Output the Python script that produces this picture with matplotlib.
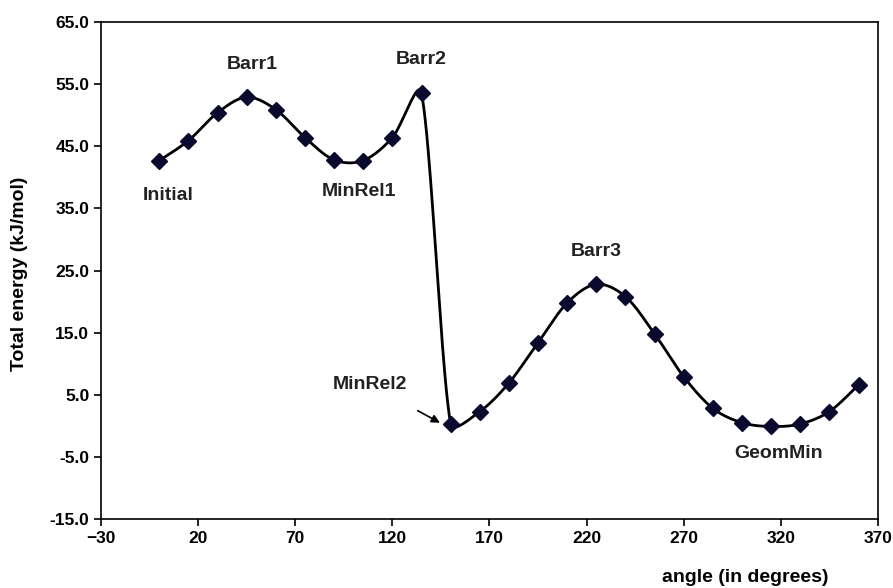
import numpy as np
import matplotlib
matplotlib.use("Agg")
import matplotlib.pyplot as plt

plt.rcParams['font.family'] = ['Liberation Sans', 'DejaVu Sans']
plt.rcParams['font.weight'] = 'bold'

# torsion scan, every 15 degrees
angle = [0, 15, 30, 45, 60, 75, 90, 105, 120, 135, 150, 165, 180,
         195, 210, 225, 240, 255, 270, 285, 300, 315, 330, 345, 360]
energy = [42.7, 45.9, 50.4, 52.9, 50.9, 46.4, 42.8, 42.7, 46.4, 53.5,
          0.3, 2.3, 6.9, 13.4, 19.8, 22.8, 20.8, 14.8, 7.9, 2.8,
          0.5, -0.1, 0.3, 2.3, 6.6]

labels = ["Initial", "Barr1", "MinRel1", "Barr2", "Barr3", "GeomMin"]
label_x = [4.5, 48, 103, 135, 225, 319]
label_y = [37.1, 58.1, 37.7, 58.9, 28.0, -4.4]

XMIN, XMAX, YMIN, YMAX = -30, 370, -15, 65


def smooth(x, y, sx=1.9425, sy=6.2125, n=40):
    # bezier "smoothed line"; tangents worked out in screen units and
    # capped to a third of the segment so steep drops don't overshoot
    p = np.column_stack([np.asarray(x) * sx, np.asarray(y) * sy]).astype(float)
    pts = [p[0]]
    for i in range(len(p) - 1):
        p0 = p[i - 1] if i > 0 else p[i]
        p3 = p[i + 2] if i + 2 < len(p) else p[i + 1]
        seg = np.linalg.norm(p[i + 1] - p[i])
        d1 = (p[i + 1] - p0) / 6.0
        d2 = (p3 - p[i]) / 6.0
        lim = seg / 3.0
        if np.linalg.norm(d1) > lim:
            d1 = d1 / np.linalg.norm(d1) * lim
        if np.linalg.norm(d2) > lim:
            d2 = d2 / np.linalg.norm(d2) * lim
        c1 = p[i] + d1
        c2 = p[i + 1] - d2
        t = np.linspace(0, 1, n)[1:, None]
        b = ((1 - t) ** 3 * p[i] + 3 * (1 - t) ** 2 * t * c1
             + 3 * (1 - t) * t ** 2 * c2 + t ** 3 * p[i + 1])
        pts.extend(b)
    pts = np.array(pts)
    return pts[:, 0] / sx, pts[:, 1] / sy


fig = plt.figure(figsize=(8.93, 5.88), dpi=100)
ax = fig.add_axes([0.1131, 0.1173, 0.8701, 0.8453])

cx, cy = smooth(angle, energy)
ax.plot(cx, cy, color='black', lw=2)
ax.plot(angle, energy, linestyle='none', marker='D', ms=8,
        color='#0a0a2e', mec='#0a0a2e')

for t, xx, yy in zip(labels, label_x, label_y):
    ax.text(xx, yy, t, ha='center', va='center', fontsize=14, fontweight='bold',
            color='#222222')

ax.annotate("MinRel2", xy=(144.5, 0.5), xytext=(108.5, 6.6),
            ha='center', va='center', fontsize=14, fontweight='bold', color='#222222',
            arrowprops=dict(arrowstyle='-|>', color='black', lw=1.2,
                            shrinkA=22, shrinkB=0, mutation_scale=12))

ax.set_xlim(XMIN, XMAX)
ax.set_ylim(YMIN, YMAX)
ax.set_xticks(np.arange(XMIN, XMAX + 1, 50))
ax.set_yticks(np.arange(YMIN, YMAX + 1, 10))
ax.set_yticklabels(["%.1f" % v for v in np.arange(YMIN, YMAX + 1, 10)])
ax.tick_params(direction='out', length=5, width=1.2, labelsize=12.5)
for lab in ax.get_xticklabels() + ax.get_yticklabels():
    lab.set_fontweight('bold')
for s in ax.spines.values():
    s.set_linewidth(1.2)

fig.text(20 / 893, 1 - 274 / 588, "Total energy (kJ/mol)", rotation=90,
         ha='center', va='center', fontsize=14, fontweight='bold')
fig.text(745 / 893, 1 - 578 / 588, "angle (in degrees)", ha='center', va='center',
         fontsize=14, fontweight='bold')

fig.savefig("out.png", dpi=100)
